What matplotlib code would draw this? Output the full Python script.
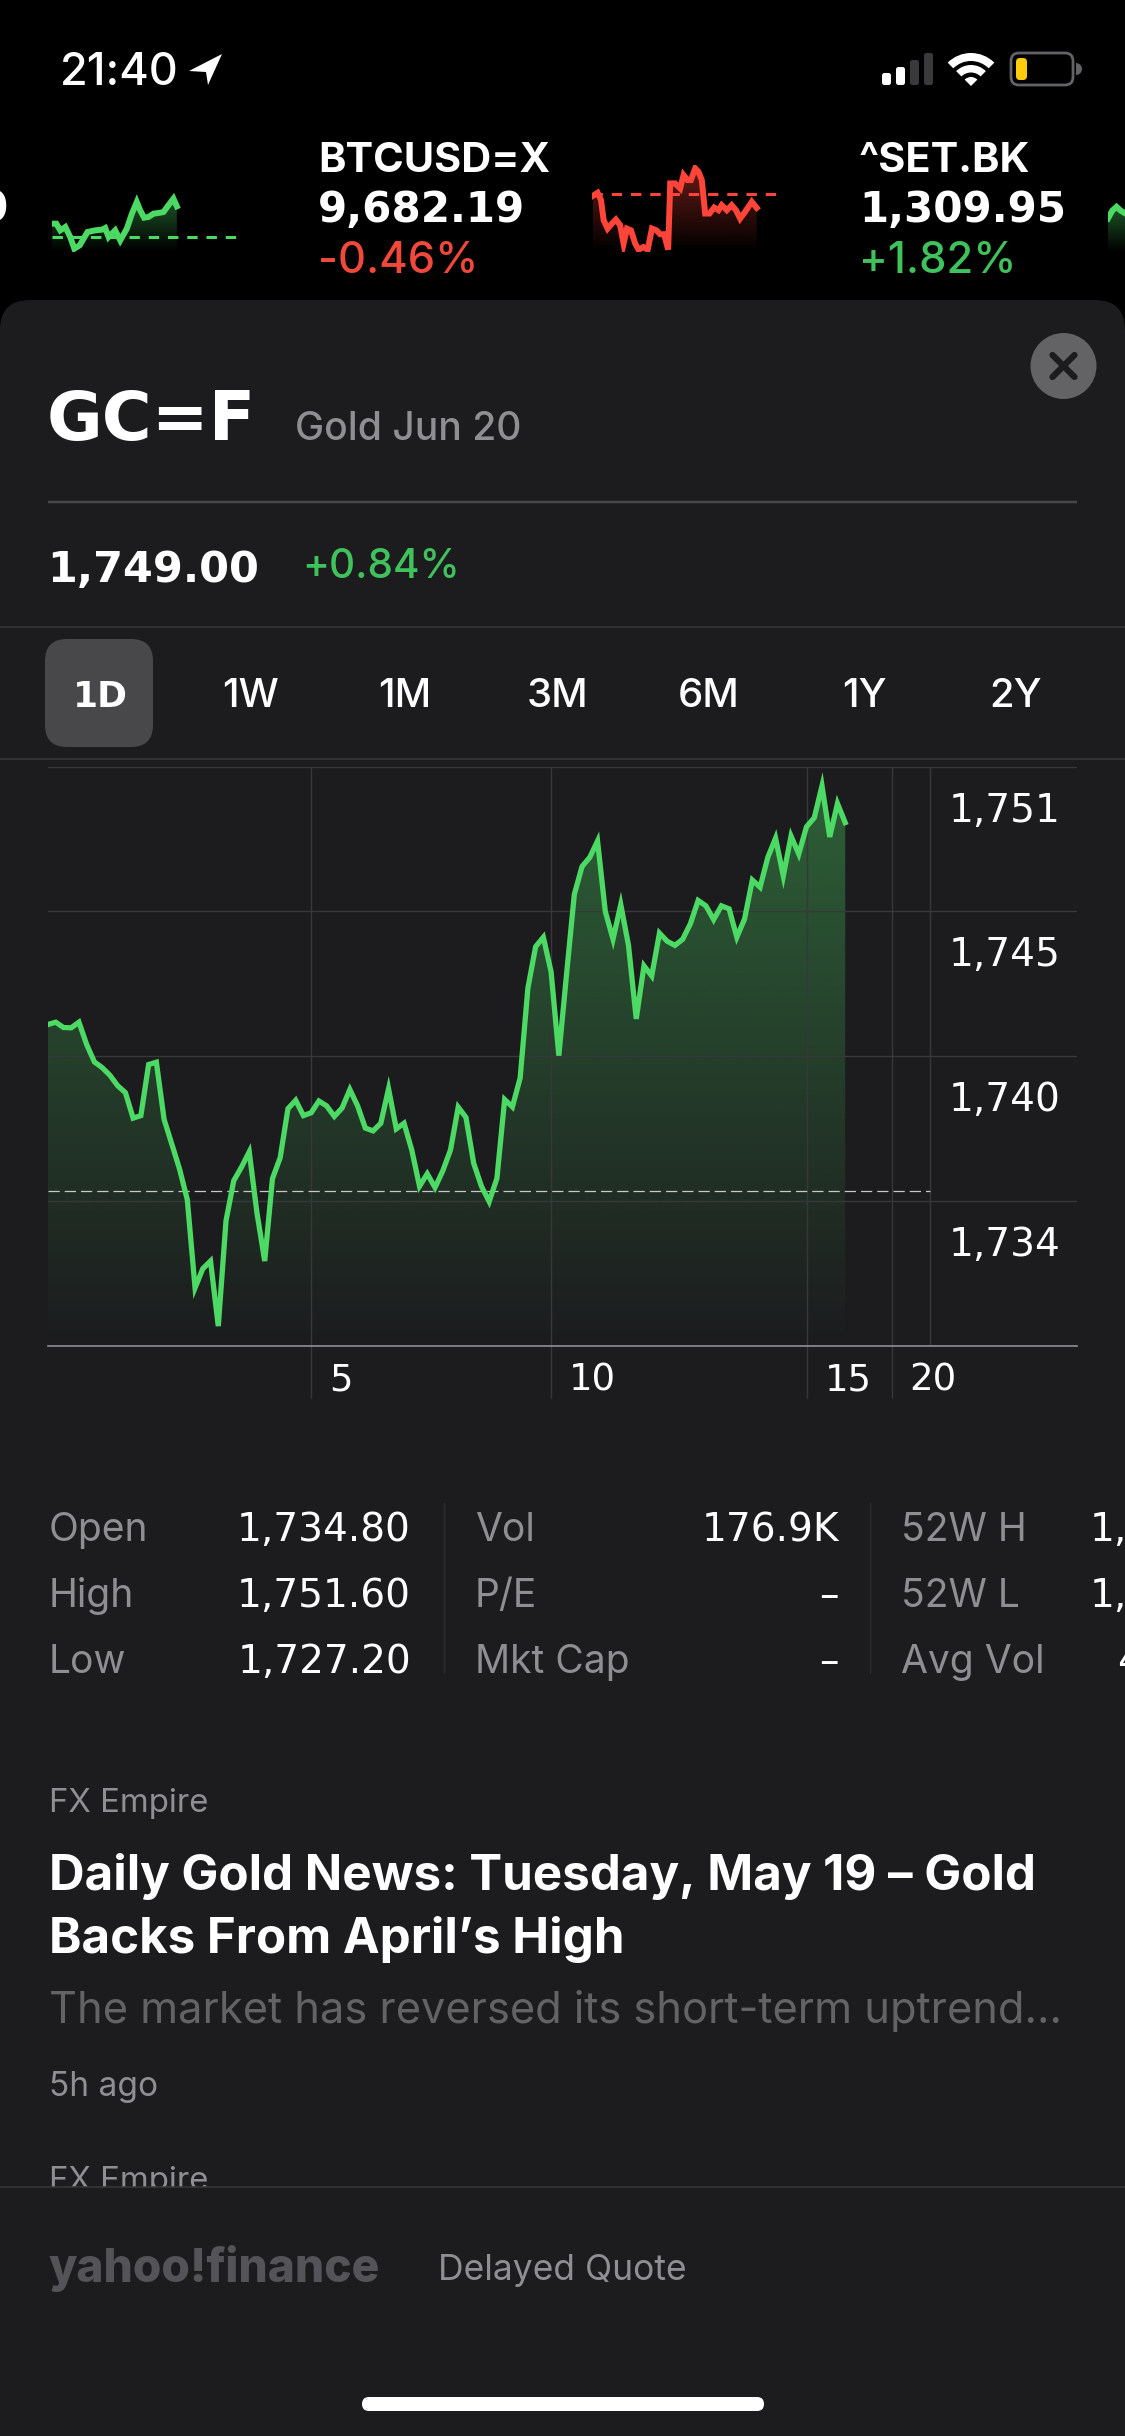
## Gold quote sheet from the Stocks app, dark theme

import numpy as np
import matplotlib
matplotlib.use("Agg")
import matplotlib.pyplot as plt
from matplotlib.patches import FancyBboxPatch, Circle, Polygon, Wedge, Rectangle
from matplotlib.transforms import ScaledTranslation

plt.rcParams['font.family'] = ['Inter', 'DejaVu Sans']

# Intraday gold price, one sample per step on the x axis
gold_prices = [
    1741.32, 1741.41, 1741.20, 1741.19, 1741.41, 1740.53, 1739.85, 1739.63, 1739.33, 1738.92,
    1738.65, 1737.65, 1737.75, 1739.75, 1739.84, 1737.60, 1736.63, 1735.65, 1734.45, 1731.00,
    1731.75, 1732.05, 1729.50, 1733.63, 1735.20, 1735.73, 1736.33, 1733.93, 1732.05, 1735.28,
    1736.10, 1738.02, 1738.35, 1737.75, 1737.86, 1738.32, 1738.13, 1737.72, 1738.05, 1738.77,
    1738.13, 1737.26, 1737.15, 1737.45, 1738.80, 1737.23, 1737.45, 1736.40, 1734.98, 1735.47,
    1734.93, 1735.58, 1736.40, 1738.08, 1737.68, 1735.88, 1734.98, 1734.38, 1735.29, 1738.38,
    1738.09, 1739.22, 1742.74, 1744.37, 1744.74, 1743.38, 1740.10, 1743.30, 1746.42, 1747.51,
    1747.87, 1748.51, 1745.75, 1744.66, 1746.02, 1744.42, 1741.54, 1743.62, 1743.22, 1744.90,
    1744.58, 1744.42, 1744.66, 1745.27, 1746.18, 1745.97, 1745.43, 1745.97, 1745.85, 1744.74,
    1745.46, 1746.98, 1746.70, 1747.87, 1748.62, 1747.14, 1748.70, 1748.00, 1749.07, 1749.42,
    1750.67, 1748.67, 1749.98, 1749.23,
]
prev_close = 1734.80
price_ticks = [1751.41, 1745.75, 1740.08, 1734.41, 1728.74]
price_labels = ["1,751", "1,745", "1,740", "1,734", ""]
time_ticks = [34, 65, 98, 109]
time_labels = ["5", "10", "15", "20"]
session_end = 114

# Ticker strip sparklines: percent of session against change from previous close
left_t = [0, 2.3, 4.4, 7.1, 9.7, 11.9, 14.7, 16.8, 18.9, 23, 26.5, 28.3, 30.1, 33.6, 36.3,
          39.8, 42.5, 45.1, 46.9, 49, 51.3, 54, 56.6, 59.3, 61.9, 64.6, 66.4]
left_v = [0.39, 0.39, 0.19, 0.29, -0.01, -0.36, -0.26, -0.06, 0.14, 0.19, 0.21, 0.26, -0.01,
          0.19, -0.11, 0.24, 0.69, 1.04, 0.79, 0.57, 0.59, 0.69, 0.71, 0.74, 0.94, 1.14, 0.91]
btc_t = [0.5, 3, 4.8, 6.2, 8.3, 10.6, 12.7, 15, 16.8, 18.6, 20.7, 23, 24.8, 27.4, 29.6, 31.9,
         34.2, 36.3, 38.4, 40.5, 41.6, 44.2, 46.9, 48.7, 50.8, 52.6, 54.9, 56.6, 58.4, 60.2,
         62.5, 65, 67.3, 69, 71.7, 74.3, 76.6, 78.8, 81.4, 85, 87.6]
btc_v = [-0.05, 0.04, -0.18, -0.78, -1.03, -0.88, -0.76, -0.93, -1.48, -1.03, -1.08, -1.48,
         -1.66, -1.58, -1.66, -1.03, -1.08, -1.20, -1.20, -1.66, 0.32, 0.32, 0.17, 0.57, 0.42,
         0.42, 0.77, 0.67, 0.42, -0.58, -0.58, -0.40, -0.48, -0.33, -0.48, -0.33, -0.48,
         -0.73, -0.53, -0.23, -0.41]
right_t = [0, 1, 2, 3, 4]
right_v = [0.1, 0.4, 0.55, 0.4, 0.3]

# Text content
ticker_rows = [(318, "BTCUSD=X", "9,682.19", "-0.46%", "#f0483a"),
               (859, "^SET.BK", "1,309.95", "+1.82%", "#3fc15c")]
tabs = ["1D", "1W", "1M", "3M", "6M", "1Y", "2Y"]
tab_x = [100, 251, 405, 557, 709, 864, 1015]
stat_names = [["Open", "High", "Low"], ["Vol", "P/E", "Mkt Cap"], ["52W H", "52W L", "Avg Vol"]]
stat_values = [["1,734.80", "1,751.60", "1,727.20"], ["176.9K", "–", "–"]]
stat_rows = [1541, 1607, 1673]

BG = "#1c1c1e"
GREEN = "#4cd964"
RED = "#ff453a"
GREY = "#8e8e93"
RULE = "#38383a"
NUM = ['DejaVu Sans']

W, H = 1125, 2436
fig = plt.figure(figsize=(W / 100, H / 100), dpi=100, facecolor="black")

# Screen layer, in pixels with y going down
scr = fig.add_axes([0, 0, 1, 1])
scr.set_xlim(0, W)
scr.set_ylim(H, 0)
scr.axis("off")


def txt(x, y, s, px, color="white", weight="normal", ha="left", **kw):
    return scr.text(x, y, s, fontsize=px * 0.72, color=color, fontweight=weight, ha=ha,
                    va="baseline", **kw)


def rounded(x, y, w, h, r, color, **kw):
    scr.add_patch(FancyBboxPatch((x + r, y + r), w - 2 * r, h - 2 * r,
                                 boxstyle="round,pad=%g,rounding_size=%g" % (r, r),
                                 fc=color, ec="none", **kw))


def rule(x0, x1, y, color=RULE, px=1.5):
    scr.plot([x0, x1], [y, y], color=color, lw=px * 0.72, solid_capstyle="butt")


def gradient_fill(ax, x, y, base, color, top_alpha):
    # vertical fade under a line, clipped to the area below it
    rgba = np.zeros((256, 1, 4))
    rgba[:, 0, :3] = matplotlib.colors.to_rgb(color)
    rgba[:, 0, 3] = np.linspace(top_alpha, 0, 256)
    im = ax.imshow(rgba, extent=[min(x), max(x), base, max(y)], aspect="auto",
                   origin="upper", zorder=1)
    poly = Polygon(list(zip(x, y)) + [(x[-1], base), (x[0], base)], closed=True,
                   transform=ax.transData, fc="none", ec="none")
    ax.add_patch(poly)
    im.set_clip_path(poly)


def sparkline(box, xlim, ylim, t, v, color, dash=True):
    x0, y0, x1, y1 = box
    ax = fig.add_axes([x0 / W, 1 - y1 / H, (x1 - x0) / W, (y1 - y0) / H])
    ax.axis("off")
    gradient_fill(ax, t, v, ylim[0], color, 0.4)
    if dash:
        ax.plot(xlim, [0, 0], color=color, lw=2.2, dashes=(3.4, 2.9), dash_capstyle="butt", zorder=2)
    ax.plot(t, v, color=color, lw=4.3, solid_joinstyle="miter", zorder=3)
    ax.set_xlim(xlim)
    ax.set_ylim(ylim)


# Status bar
txt(60, 85, "21:40", 45, weight="medium")
scr.add_patch(Polygon([(222, 54), (189, 71), (206, 72), (208, 85)], closed=True, fc="white", ec="none"))
bar_x = [882, 896, 910, 924]
bar_top = [73, 67, 60, 53]
for i in range(4):
    rounded(bar_x[i], bar_top[i], 9, 85 - bar_top[i], 2.5, "white" if i < 2 else "#3a3a3c")
scr.add_patch(Wedge((971, 86), 33, 225, 315, width=8, fc="white", ec="none"))
scr.add_patch(Wedge((971, 86), 21, 225, 315, width=7.5, fc="white", ec="none"))
scr.add_patch(Wedge((971, 86), 9, 225, 315, fc="white", ec="none"))
scr.add_patch(FancyBboxPatch((1018, 60), 48, 18, boxstyle="round,pad=7,rounding_size=8",
                             fc="none", ec="#636366", lw=2))
rounded(1016, 58, 11, 22, 4, "#ffcc0a")
scr.add_patch(Wedge((1076, 69), 6, -90, 90, fc="#636366", ec="none"))

# Ticker strip
txt(8, 222, "0", 42, weight="bold", ha="right", family=NUM)
for x, name, price, pct, col in ticker_rows:
    txt(x, 172, name, 41.5, weight="bold")
    txt(x, 222, price, 42, weight="bold", family=NUM)
    txt(x, 273, pct, 43.5, color=col, weight="medium")
sparkline((52, 187, 240, 252), (0, 100), (-0.46, 1.49), left_t, left_v, GREEN)
sparkline((592, 165, 780, 252), (0, 100), (-1.73, 0.87), btc_t, btc_v, RED)
sparkline((1108, 190, 1125, 252), (0, 4), (-1.2, 1.2), right_t, right_v, GREEN, dash=False)

# Sheet
rounded(0, 300, W, 300, 30, BG, zorder=0.5)
scr.add_patch(Rectangle((0, 400), W, H - 400, fc=BG, ec="none", zorder=0.5))

scr.add_patch(Circle((1063.5, 366), 33, fc="#636366", ec="none"))
for sx in (-1, 1):
    scr.plot([1063.5 - 11, 1063.5 + 11], [366 - 11 * sx, 366 + 11 * sx], color=BG, lw=4.5,
             solid_capstyle="round")

txt(47, 440, "GC=F", 68, weight="bold", family=NUM)
txt(295, 440, "Gold Jun 20", 39, color=GREY, weight="medium")
rule(48, 1077, 502, color="#48484a", px=2.5)
txt(47, 582, "1,749.00", 43, weight="bold", family=NUM)
txt(302, 578, "+0.84%", 40.5, color="#3fc15c", weight="medium")
rule(0, W, 627)
rule(0, W, 759)

rounded(45, 639, 108, 108, 22, "#48484a")
for i, tab in enumerate(tabs):
    if i == 0:
        txt(tab_x[i], 707, tab, 36, weight="bold", ha="center", family=NUM)
    else:
        txt(tab_x[i], 707, tab, 40, weight="medium", ha="center")

# Price chart
x_left, x_right, y_top, y_bot = 48, 1077, 767, 1345.5
ax = fig.add_axes([x_left / W, 1 - y_bot / H, (x_right - x_left) / W, (y_bot - y_top) / H])
ax.patch.set_alpha(0)
steps = list(range(len(gold_prices)))
gradient_fill(ax, steps, gold_prices, price_ticks[-1], GREEN, 0.36)
ax.plot(steps, gold_prices, color=GREEN, lw=3.8, solid_joinstyle="miter", zorder=4)
ax.plot([0, session_end], [prev_close, prev_close], color="#c8c8c8", lw=0.9, dashes=(9, 4), zorder=3)
ax.axvline(session_end, color=RULE, lw=1)
ax.set_xlim(0, (x_right - x_left) / 7.74)
ax.set_ylim(price_ticks[-1], price_ticks[0])
for side in ("left", "right", "top"):
    ax.spines[side].set_visible(False)
ax.spines["bottom"].set_color("#8e8e93")
ax.spines["bottom"].set_linewidth(1.2)
ax.set_axisbelow("line")
ax.grid(True, color=RULE, lw=1)

ax.set_xticks(time_ticks)
ax.set_xticklabels(time_labels, fontsize=37 * 0.72, color="white", family=NUM)
ax.tick_params(axis="x", length=52 * 0.72, width=1, color=RULE, pad=-36 * 0.72)
for lab in ax.get_xticklabels():
    lab.set_ha("left")
    lab.set_transform(lab.get_transform() + ScaledTranslation(18 / 100, 0, fig.dpi_scale_trans))

ax.yaxis.tick_right()
ax.set_yticks(price_ticks)
ax.set_yticklabels(price_labels, fontsize=39 * 0.72, color="white", family=NUM)
ax.tick_params(axis="y", length=0, pad=-128 * 0.72)
for lab in ax.get_yticklabels():
    lab.set_transform(lab.get_transform() + ScaledTranslation(0, -40 / 100, fig.dpi_scale_trans))

# Stats table
name_x = [49, 475, 901]
value_x = [411, 839]
for c in range(3):
    for r in range(3):
        txt(name_x[c], stat_rows[r], stat_names[c][r], 39, color=GREY)
for c in range(2):
    for r in range(3):
        txt(value_x[c], stat_rows[r], stat_values[c][r], 39, ha="right", family=NUM)
txt(1090, stat_rows[0], "1,", 39, family=NUM)
txt(1090, stat_rows[1], "1,", 39, family=NUM)
txt(1117, stat_rows[2], "4", 39, family=NUM)
for x in (444, 870):
    scr.plot([x, x], [1503, 1673], color="#2c2c2e", lw=1)

# News
txt(49, 1812, "FX Empire", 33, color=GREY)
txt(49, 1890, "Daily Gold News: Tuesday, May 19 – Gold", 49.3, weight="bold")
txt(49, 1953, "Backs From April’s High", 49.3, weight="bold")
txt(49, 2023, "The market has reversed its short-term uptrend...", 43.3, color="#636366")
txt(49, 2096, "5h ago", 33.5, color=GREY)
txt(49, 2190, "FX Empire", 33, color=GREY)

# Footer covers the scrolling text
scr.add_patch(Rectangle((0, 2187), W, H - 2187, fc=BG, ec="none", zorder=5))
scr.plot([0, W], [2187, 2187], color=RULE, lw=1.1, zorder=6)
txt(49, 2282, "yahoo!finance", 46, color="#545458", weight="heavy", zorder=6)
txt(438, 2280, "Delayed Quote", 35.5, color=GREY, zorder=6)
rounded(362, 2397, 402, 14, 7, "white", zorder=6)

fig.savefig("out.png", dpi=100, facecolor="black")
